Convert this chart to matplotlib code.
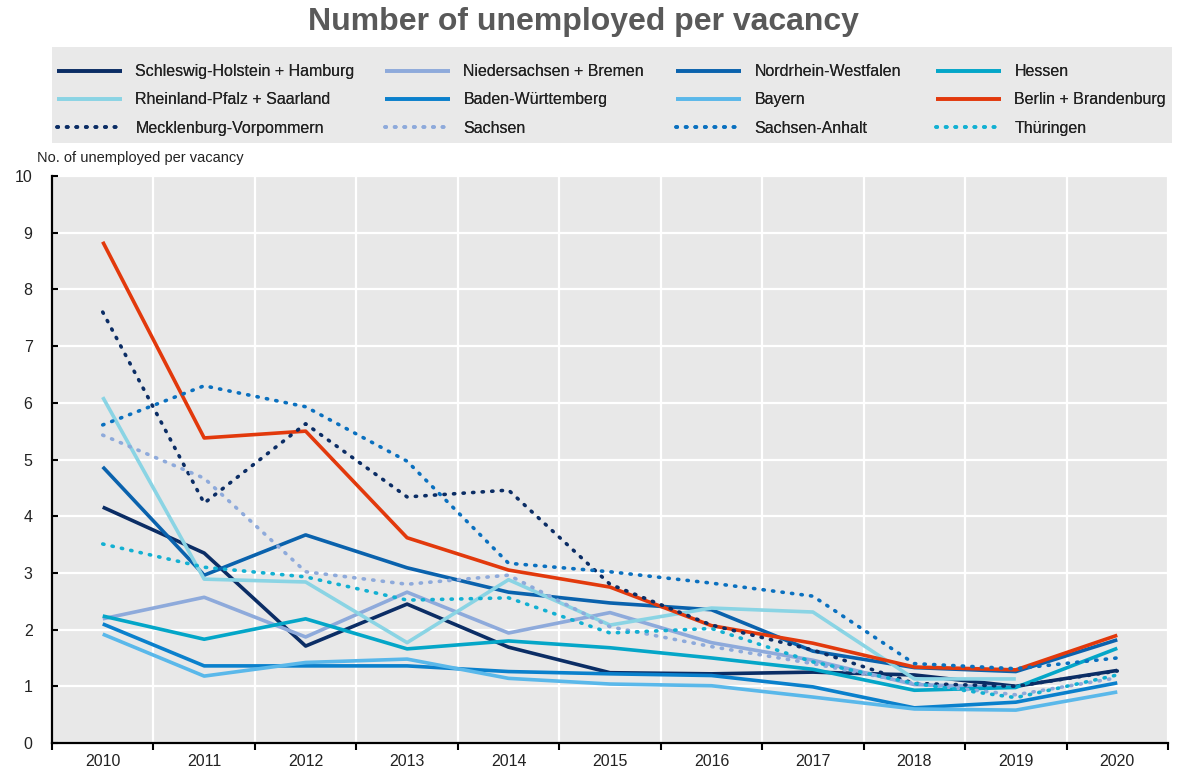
import numpy as np
import matplotlib
matplotlib.use("Agg")
import matplotlib.pyplot as plt
from matplotlib import font_manager
from matplotlib.patches import Rectangle
from matplotlib.ticker import MultipleLocator, FixedLocator

nan = np.nan
years = [2010, 2011, 2012, 2013, 2014, 2015, 2016, 2017, 2018, 2019, 2020]

sh_hamburg  = [4.16, 3.35, 1.71, 2.45, 1.69, 1.24, 1.22, 1.25, 1.20, 1.00, 1.28]
nds_bremen  = [2.19, 2.57, 1.87, 2.66, 1.94, 2.30, 1.77, 1.46, 1.03, 0.98, nan]
nrw         = [4.87, 2.96, 3.67, 3.09, 2.66, 2.47, 2.35, 1.62, 1.33, 1.26, 1.82]
hessen      = [2.24, 1.83, 2.19, 1.66, 1.80, 1.68, 1.50, 1.30, 0.93, 0.98, 1.67]
rlp_saar    = [6.10, 2.89, 2.84, 1.77, 2.88, 2.08, 2.38, 2.31, 1.13, 1.13, nan]
bw          = [2.10, 1.36, 1.36, 1.36, 1.26, 1.22, 1.19, 0.99, 0.62, 0.72, 1.06]
bayern      = [1.92, 1.18, 1.42, 1.48, 1.14, 1.04, 1.01, 0.81, 0.60, 0.58, 0.90]
berlin_bb   = [8.84, 5.38, 5.50, 3.62, 3.05, 2.75, 2.07, 1.76, 1.34, 1.29, 1.90]
mv          = [7.60, 4.23, 5.63, 4.34, 4.46, 2.80, 2.08, 1.64, 1.05, 1.00, 1.27]
sachsen     = [5.43, 4.67, 3.02, 2.80, 2.96, 2.05, 1.70, 1.40, 1.05, 0.85, 1.15]
sachsen_anh = [5.61, 6.30, 5.93, 4.97, 3.17, 3.02, 2.82, 2.59, 1.40, 1.31, 1.50]
thueringen  = [3.51, 3.10, 2.93, 2.52, 2.56, 1.94, 2.02, 1.43, 1.05, 0.80, 1.20]

labels = ["Schleswig-Holstein + Hamburg", "Niedersachsen + Bremen", "Nordrhein-Westfalen", "Hessen",
          "Rheinland-Pfalz + Saarland", "Baden-Württemberg", "Bayern", "Berlin + Brandenburg",
          "Mecklenburg-Vorpommern", "Sachsen", "Sachsen-Anhalt", "Thüringen"]
series = [sh_hamburg, nds_bremen, nrw, hessen, rlp_saar, bw, bayern, berlin_bb,
          mv, sachsen, sachsen_anh, thueringen]
colors = ["#0b2d65", "#8eaadb", "#0a62ad", "#04a6c8",
          "#8ad4e4", "#0a80cc", "#5ab8ea", "#e2390c",
          "#0b2d65", "#8eaadb", "#0a70bf", "#12b0d2"]
dotted = [False]*8 + [True]*4

avail = {f.name for f in font_manager.fontManager.ttflist}
narrow = "Liberation Sans Narrow" if "Liberation Sans Narrow" in avail else "Liberation Sans"
plt.rcParams['font.family'] = [narrow, 'DejaVu Sans']

W, H = 1188, 771
fig = plt.figure(figsize=(W/100, H/100), dpi=100)
ax = fig.add_axes([52/W, 1-743/H, (1168-52)/W, (743-176)/H])
ax.set_facecolor("#e8e8e8")

x = np.arange(len(years))
handles = []
for s, lab, c, d in zip(series, labels, colors, dotted):
    if d:
        ln, = ax.plot(x, s, color=c, lw=2.6, linestyle=(0, (0.35, 2.3)),
                      dash_capstyle='round', label=lab, zorder=3)
    else:
        ln, = ax.plot(x, s, color=c, lw=2.6, label=lab, solid_capstyle='butt', zorder=3)
    handles.append(ln)

ax.set_xlim(-0.5, len(years)-0.5)
ax.set_ylim(0, 10)
ax.set_xticks(x)
ax.set_xticklabels([str(y) for y in years], fontsize=11.5, color="#222222")
ax.xaxis.set_minor_locator(FixedLocator(np.arange(-0.5, len(years), 1.0)))
ax.tick_params(axis='x', which='major', length=0, pad=8)
ax.tick_params(axis='x', which='minor', length=5, width=1.5, direction='out', color='black')
ax.yaxis.set_major_locator(MultipleLocator(1))
ax.tick_params(axis='y', which='major', length=4, width=1.5, direction='in', labelsize=11.5,
               labelcolor="#222222", pad=14)
ax.grid(True, which='major', axis='y', color='white', lw=1.6, zorder=1)
ax.grid(True, which='minor', axis='x', color='white', lw=1.6, zorder=1)
ax.set_axisbelow(True)
for sp in ['top', 'right']:
    ax.spines[sp].set_visible(False)
for sp in ['left', 'bottom']:
    ax.spines[sp].set_linewidth(1.6)
    ax.spines[sp].set_color('black')

fig.text(37/W, 1-158/H, "No. of unemployed per vacancy", fontsize=10.5, color="#222222",
         ha='left', va='center')

fig.text(583/W, 1-22/H, "Number of unemployed per vacancy", fontsize=23, fontweight='bold',
         color="#595959", ha='center', va='center')

# legend background box
fig.patches.append(Rectangle((52/W, 1-143/H), (1172-52)/W, (143-47)/H,
                             transform=fig.transFigure, facecolor="#e9e9e9",
                             edgecolor='none', zorder=0))

# legend: one legend per column, rows as in the reference
nrow, ncol = 3, 4
col_x = [57, 385, 676, 936]
for c in range(ncol):
    idx = [r*ncol + c for r in range(nrow)]
    leg = fig.legend([handles[i] for i in idx], [labels[i] for i in idx],
                     loc='center left', bbox_to_anchor=(col_x[c]/W, 1-100/H),
                     frameon=False, fontsize=11.5, handlelength=4.05,
                     handletextpad=0.85, labelspacing=0.82, borderaxespad=0.0,
                     borderpad=0.0)
    for t in leg.get_texts():
        t.set_color("#222222")
    fig.add_artist(leg)

fig.savefig("out.png", dpi=100)
